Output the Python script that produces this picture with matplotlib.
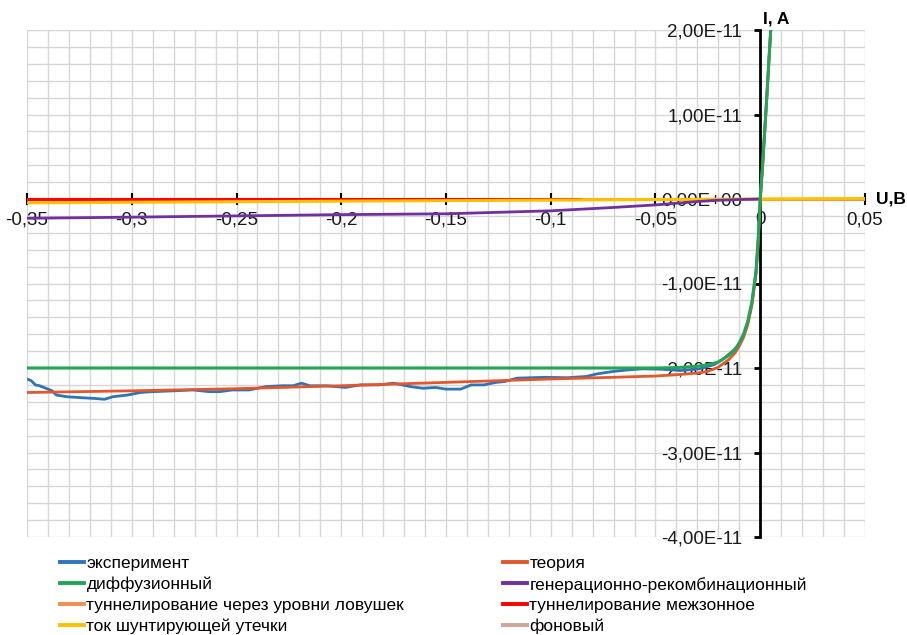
import matplotlib
matplotlib.use("Agg")
import matplotlib.pyplot as plt
from matplotlib.lines import Line2D

plt.rcParams['font.family'] = ['Liberation Sans', 'DejaVu Sans']

# ---- data: voltage U (V), current I (units of 1e-11 A) ----
u_exp = [-0.350, -0.348, -0.346, -0.344, -0.341, -0.338, -0.336, -0.331, -0.325, -0.318,
         -0.313, -0.309, -0.302, -0.296, -0.290, -0.280, -0.271, -0.263, -0.258, -0.252,
         -0.244, -0.236, -0.228, -0.223, -0.219, -0.215, -0.207, -0.198, -0.191, -0.182,
         -0.175, -0.167, -0.161, -0.155, -0.150, -0.143, -0.138, -0.132, -0.126, -0.122,
         -0.116, -0.103, -0.092, -0.083, -0.078, -0.070, -0.062, -0.056, -0.046, -0.038,
         -0.029, -0.022, -0.0175, -0.0127, -0.010, -0.008, -0.006, -0.004, -0.002, -0.001,
         0.000, 0.001, 0.002, 0.003, 0.004, 0.005, 0.0055]
i_exp = [-2.13, -2.15, -2.20, -2.21, -2.24, -2.27, -2.32, -2.34, -2.35, -2.36,
         -2.37, -2.34, -2.32, -2.29, -2.28, -2.27, -2.26, -2.28, -2.28, -2.26,
         -2.26, -2.22, -2.21, -2.21, -2.18, -2.21, -2.21, -2.23, -2.20, -2.20,
         -2.18, -2.22, -2.24, -2.23, -2.25, -2.25, -2.20, -2.20, -2.17, -2.16,
         -2.12, -2.11, -2.115, -2.10, -2.07, -2.04, -2.02, -2.01, -2.015, -2.03,
         -2.01, -1.96, -1.89, -1.79, -1.72, -1.62, -1.47, -1.24, -0.86, -0.50,
         0.0, 0.35, 0.75, 1.15, 1.58, 2.0, 2.25]

u_theory = [-0.35, -0.30, -0.25, -0.20, -0.15, -0.10, -0.07, -0.05, -0.04, -0.03,
            -0.025, -0.02, -0.015, -0.012, -0.010, -0.008, -0.006, -0.004, -0.002, -0.001,
            0.0, 0.001, 0.002, 0.003, 0.004, 0.005, 0.0055]
i_theory = [-2.29, -2.27, -2.245, -2.21, -2.17, -2.13, -2.11, -2.095, -2.08, -2.06,
            -2.04, -1.99, -1.90, -1.82, -1.74, -1.64, -1.49, -1.26, -0.88, -0.52,
            0.0, 0.35, 0.75, 1.15, 1.58, 2.0, 2.25]

u_diff = [-0.35, -0.05, -0.04, -0.03, -0.025, -0.02, -0.015, -0.012, -0.010, -0.008,
          -0.006, -0.004, -0.002, -0.001, 0.0, 0.001, 0.002, 0.003, 0.004, 0.005, 0.0055]
i_diff = [-2.0, -2.0, -1.995, -1.98, -1.96, -1.93, -1.85, -1.78, -1.70, -1.60,
          -1.45, -1.22, -0.85, -0.48, 0.0, 0.36, 0.76, 1.16, 1.58, 2.0, 2.22]

u_gr = [-0.35, -0.30, -0.25, -0.20, -0.15, -0.10, -0.07, -0.05, -0.04, -0.03, -0.02, -0.01, 0.0]
i_gr = [-0.228, -0.215, -0.20, -0.185, -0.175, -0.14, -0.10, -0.07, -0.05, -0.03, -0.015, -0.006, 0.0]

u_trap = [-0.35, -0.20, -0.10, 0.0, 0.05]
i_trap = [0.0, 0.0, 0.0, 0.0, 0.0]

u_btb = [-0.35, -0.25, -0.15, -0.085]
i_btb = [0.0, 0.0, 0.0, 0.0]

u_shunt = [-0.35, -0.25, -0.15, -0.05, 0.0, 0.05]
i_shunt = [-0.045, -0.032, -0.019, -0.006, 0.0, 0.006]

u_bg = [-0.35, -0.20, -0.10, 0.0, 0.05]
i_bg = [0.0, 0.0, 0.0, 0.0, 0.0]

x_ticks = [-0.35, -0.30, -0.25, -0.20, -0.15, -0.10, -0.05, 0.0, 0.05]
x_labels = ['-0,35', '-0,3', '-0,25', '-0,2', '-0,15', '-0,1', '-0,05', '0', '0,05']
y_ticks = [2, 1, 0, -1, -2, -3, -4]
y_labels = ['2,00E-11', '1,00E-11', '0,00E+00', '-1,00E-11', '-2,00E-11', '-3,00E-11', '-4,00E-11']

names = ['эксперимент', 'теория', 'диффузионный', 'генерационно-рекомбинационный',
         'туннелирование через уровни ловушек', 'туннелирование межзонное',
         'ток шунтирующей утечки', 'фоновый']
colors = ['#2E75B6', '#E4572C', '#22A556', '#7030A0',
          '#F28E4E', '#FF0000', '#FFC000', '#D3A29A']

W, H = 907, 635
fig = plt.figure(figsize=(W / 100, H / 100), dpi=100)
ax = fig.add_axes([27 / W, 1 - 537 / H, 838 / W, 507 / H])
ax.set_xlim(-0.35, 0.05)
ax.set_ylim(-4, 2)

# light grid: every 0.01 V and every 0.2e-11 A
for k in range(41):
    ax.axvline(-0.35 + 0.01 * k, color='#D6D6D6', lw=1.0, zorder=0.5)
for k in range(31):
    ax.axhline(-4 + 0.2 * k, color='#D6D6D6', lw=1.0, zorder=0.5)

series = [(u_exp, i_exp), (u_theory, i_theory), (u_diff, i_diff), (u_gr, i_gr),
          (u_trap, i_trap), (u_btb, i_btb), (u_shunt, i_shunt), (u_bg, i_bg)]
widths = [2.0, 2.0, 2.2, 2.0, 2.2, 2.2, 2.2, 2.0]
zorders = [2.0, 2.05, 2.1, 2.02, 1.9, 1.95, 2.0, 1.8]
for (u, i), c, lw, z in zip(series, colors, widths, zorders):
    ax.plot(u, i, color=c, lw=lw, zorder=z, solid_capstyle='butt')

# axes crossing at the origin
for side in ('top', 'right'):
    ax.spines[side].set_visible(False)
ax.spines['left'].set_position(('data', 0))
ax.spines['bottom'].set_position(('data', 0))
ax.spines['left'].set_linewidth(2.0)
ax.spines['bottom'].set_linewidth(1.2)
ax.spines['left'].set_zorder(1.5)
ax.spines['bottom'].set_zorder(1.5)

ax.set_xticks(x_ticks)
ax.set_xticklabels(x_labels)
ax.set_yticks(y_ticks)
ax.set_yticklabels(y_labels)
ax.tick_params(axis='x', direction='inout', length=8, width=1.5, pad=5,
               labelsize=13.5, labelcolor='#1a1a1a')
ax.tick_params(axis='y', direction='out', length=4, width=2, pad=9,
               labelsize=13.5, labelcolor='#1a1a1a')

fig.text(763 / W, 1 - 19 / H, 'I, A', fontsize=12.5, fontweight='bold', va='center', ha='left')
fig.text(876 / W, 1 - 199 / H, 'U,B', fontsize=12.5, fontweight='bold', va='center', ha='left')

# two-column legend below the plot
handles = [Line2D([], [], color=c, lw=2.8) for c in colors]
left_idx = [0, 2, 4, 6]
right_idx = [1, 3, 5, 7]
for idx, x0 in ((left_idx, 60), (right_idx, 503)):
    fig.legend([handles[j] for j in idx], [names[j] for j in idx],
               loc='upper left', bbox_to_anchor=(x0 / W, 1 - 556 / H),
               frameon=False, handlelength=1.4, handletextpad=0.12,
               labelspacing=0.32, borderpad=0, borderaxespad=0,
               prop={'family': ['Liberation Sans', 'DejaVu Sans'], 'size': 12.5})

fig.savefig('out.png', dpi=100)
